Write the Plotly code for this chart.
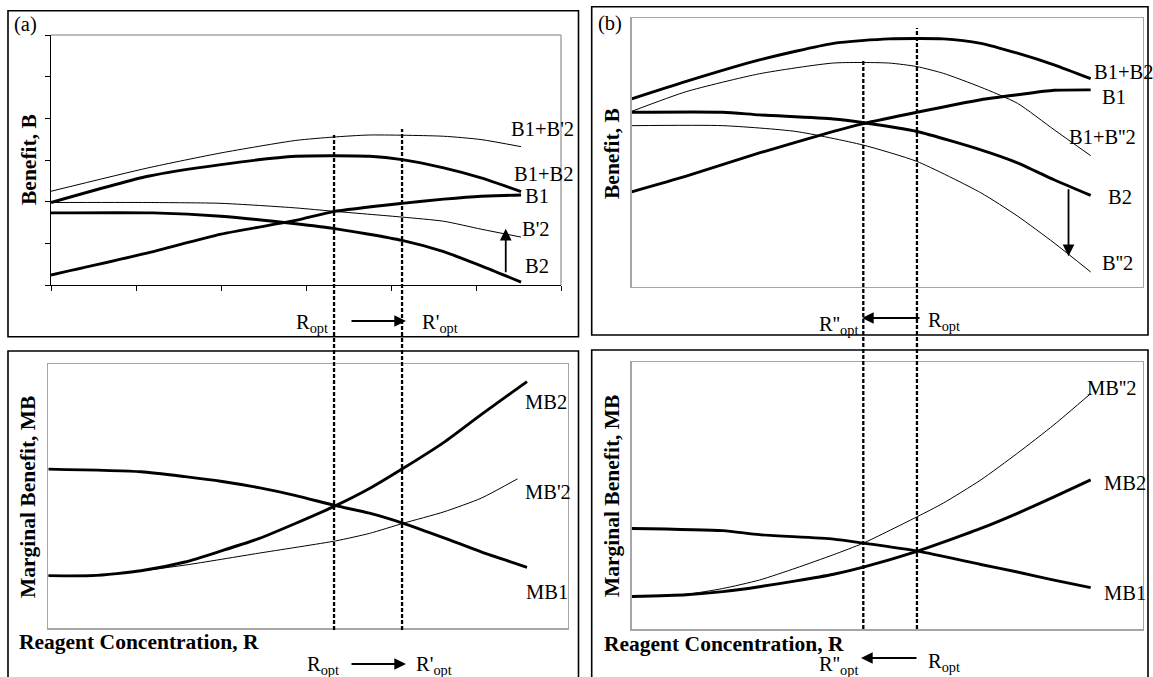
import plotly.graph_objects as go

W, H = 1153, 677

# ---------------- data ----------------
# Panel (a): benefit curves
a_b1pb2p_x = [0, 1.14, 2.0, 2.88, 3.32, 3.75, 4.62, 5.06, 5.53]
a_b1pb2p_y = [2.25, 2.81, 3.17, 3.47, 3.55, 3.60, 3.57, 3.49, 3.32]
a_b1pb2_x = [0, 1.14, 2.0, 2.88, 3.75, 4.13, 4.62, 5.06, 5.53]
a_b1pb2_y = [1.98, 2.61, 2.89, 3.09, 3.09, 3.01, 2.81, 2.57, 2.24]
a_b1_x = [0, 1.14, 2.0, 2.88, 3.32, 4.13, 4.62, 5.06, 5.53]
a_b1_y = [0.24, 0.77, 1.22, 1.55, 1.76, 1.96, 2.06, 2.13, 2.16]
a_b2p_x = [0, 1.14, 2.0, 2.88, 3.32, 4.13, 4.62, 5.06, 5.53]
a_b2p_y = [1.98, 1.98, 1.96, 1.85, 1.77, 1.63, 1.53, 1.34, 1.15]
a_b2_x = [0, 1.2, 2.0, 2.88, 3.32, 4.13, 4.62, 5.06, 5.53]
a_b2_y = [1.73, 1.73, 1.65, 1.47, 1.36, 1.07, 0.80, 0.46, 0.07]
a_ticks = [0, 1, 2, 3, 4, 5, 6]
a_ropt, a_ropt_prime = 3.33, 4.13
a_shift_arrow_x, a_shift_arrow_from, a_shift_arrow_to = 5.35, 0.27, 1.35

# Panel (b): benefit curves
b_b1pb2_x = [0, 0.64, 1.50, 2.37, 3.02, 3.66, 4.10, 4.53, 4.96, 5.39]
b_b1pb2_y = [4.20, 4.59, 5.07, 5.44, 5.54, 5.54, 5.44, 5.22, 4.96, 4.65]
b_b1pb2pp_x = [0, 0.64, 1.50, 2.37, 3.02, 3.35, 3.66, 4.10, 4.53, 4.96, 5.39]
b_b1pb2pp_y = [3.92, 4.36, 4.76, 5.00, 5.00, 4.92, 4.77, 4.46, 4.10, 3.51, 2.93]
b_b1_x = [0, 0.64, 1.50, 2.37, 2.71, 3.35, 4.10, 4.53, 4.96, 5.39]
b_b1_y = [2.12, 2.47, 2.99, 3.47, 3.64, 3.90, 4.18, 4.29, 4.39, 4.40]
b_b2_x = [0, 1.07, 1.50, 2.37, 2.71, 3.35, 4.10, 4.53, 4.96, 5.39]
b_b2_y = [3.90, 3.90, 3.84, 3.75, 3.67, 3.47, 3.06, 2.77, 2.39, 2.04]
b_b2pp_x = [0, 1.07, 1.93, 2.71, 3.35, 4.10, 4.53, 4.96, 5.39]
b_b2pp_y = [3.60, 3.60, 3.47, 3.17, 2.80, 2.10, 1.58, 0.98, 0.33]
b_ropt, b_ropt_dprime = 3.35, 2.72
b_shift_arrow_x, b_shift_arrow_from, b_shift_arrow_to = 5.13, 2.21, 0.68

# Panel (c): marginal benefit curves
c_mb1_x = [0, 1.07, 1.58, 2.01, 2.43, 2.86, 3.32, 3.71, 4.10, 4.57, 5.0, 5.53]
c_mb1_y = [3.61, 3.55, 3.44, 3.33, 3.19, 3.01, 2.78, 2.61, 2.38, 2.05, 1.73, 1.38]
c_mb2_x = [0, 0.51, 1.07, 1.58, 2.01, 2.43, 2.86, 3.32, 3.71, 4.10, 4.57, 5.0, 5.53]
c_mb2_y = [1.19, 1.19, 1.30, 1.50, 1.76, 2.03, 2.38, 2.78, 3.17, 3.63, 4.22, 4.85, 5.60]
c_mb2p_x = [0, 0.73, 1.58, 2.43, 3.32, 3.71, 4.10, 4.57, 5.0, 5.42]
c_mb2p_y = [1.19, 1.22, 1.43, 1.70, 1.98, 2.15, 2.38, 2.64, 2.95, 3.39]

# Panel (d): marginal benefit curves
d_mb1_x = [0, 1.07, 1.50, 2.37, 2.72, 3.36, 4.10, 4.53, 4.96, 5.39]
d_mb1_y = [2.26, 2.21, 2.12, 2.02, 1.93, 1.75, 1.45, 1.28, 1.10, 0.93]
d_mb2_x = [0, 0.64, 1.07, 1.50, 1.93, 2.37, 2.72, 3.36, 3.66, 4.10, 4.53, 4.96, 5.39]
d_mb2_y = [0.73, 0.77, 0.84, 0.95, 1.08, 1.23, 1.39, 1.75, 1.95, 2.26, 2.60, 2.97, 3.35]
d_mb2pp_x = [0, 0.64, 1.07, 1.50, 1.93, 2.37, 2.72, 3.36, 3.66, 4.10, 4.53, 4.96, 5.39]
d_mb2pp_y = [0.73, 0.78, 0.91, 1.10, 1.37, 1.67, 1.93, 2.53, 2.83, 3.35, 3.95, 4.59, 5.29]

# ---------------- layout helpers (pixel -> paper) ----------------
def px(x):
    return x / W

def py(y):
    return 1 - y / H

FONT = "Liberation Serif"
THICK, THIN = 2.9, 1.0
GRAY = "#a6a6a6"
LBL, TTL = 20.5, 21.5

fig = go.Figure()

def curve(x, y, width, ax):
    fig.add_trace(go.Scatter(x=x, y=y, mode="lines", xaxis="x" + ax, yaxis="y" + ax,
                             line=dict(color="black", width=width, shape="spline", smoothing=0.6),
                             hoverinfo="skip", showlegend=False))

# panel a  -> axis "" (x, y)
curve(a_b1pb2p_x, a_b1pb2p_y, THIN, "")
curve(a_b1pb2_x, a_b1pb2_y, THICK, "")
curve(a_b1_x, a_b1_y, THICK, "")
curve(a_b2p_x, a_b2p_y, THIN, "")
curve(a_b2_x, a_b2_y, THICK, "")
# panel b  -> axis 2
curve(b_b1pb2_x, b_b1pb2_y, THICK, "2")
curve(b_b1pb2pp_x, b_b1pb2pp_y, THIN, "2")
curve(b_b1_x, b_b1_y, THICK, "2")
curve(b_b2_x, b_b2_y, THICK, "2")
curve(b_b2pp_x, b_b2pp_y, THIN, "2")
# panel c  -> axis 3
curve(c_mb1_x, c_mb1_y, THICK, "3")
curve(c_mb2_x, c_mb2_y, THICK, "3")
curve(c_mb2p_x, c_mb2p_y, THIN, "3")
# panel d  -> axis 4
curve(d_mb1_x, d_mb1_y, THICK, "4")
curve(d_mb2_x, d_mb2_y, THICK, "4")
curve(d_mb2pp_x, d_mb2pp_y, THIN, "4")

# plot-area pixel boxes (left, right, top, bottom)
boxes = {
    "": (51, 561, 35, 285),
    "2": (631.7, 1142.6, 18.3, 286.7),
    "3": (48.3, 567.7, 364, 628),
    "4": (631.7, 1142.6, 362, 629),
}
y_ranges = {"": [0, 6], "2": [0, 6], "3": [0, 6], "4": [0, 6]}
x_ranges = {"": [0, 6], "2": [0, 6], "3": [0, 6], "4": [0, 6]}

layout_axes = {}
for k, (l, r, t, b) in boxes.items():
    xa = dict(domain=[px(l), px(r)], range=x_ranges[k], showgrid=False, zeroline=False,
              showticklabels=False, anchor="y" + k, fixedrange=True)
    ya = dict(domain=[py(b), py(t)], range=y_ranges[k], showgrid=False, zeroline=False,
              showticklabels=False, anchor="x" + k, fixedrange=True)
    if k == "":
        for a in (xa, ya):
            a.update(showline=True, linecolor="black", linewidth=1, ticks="outside",
                     tickvals=a_ticks, ticklen=5, tickcolor="black", tickwidth=1)
    else:
        for a in (xa, ya):
            a.update(showline=True, linecolor=GRAY, linewidth=1.5, mirror=True, ticks="")
    layout_axes["xaxis" + k] = xa
    layout_axes["yaxis" + k] = ya

shapes = []
# gray top/right border of panel (a) plot area
shapes.append(dict(type="line", xref="x domain", yref="y domain", x0=0, x1=1, y0=1, y1=1,
                   line=dict(color=GRAY, width=1.5)))
shapes.append(dict(type="line", xref="x domain", yref="y domain", x0=1, x1=1, y0=0, y1=1,
                   line=dict(color=GRAY, width=1.5)))

# outer panel frames (pixels)
frames = [(8, 578.5, 10.7, 336.7), (591.7, 1148, 6.7, 335), (8, 578.5, 351, 690), (591.7, 1148, 350, 690)]
for l, r, t, b in frames:
    shapes.append(dict(type="rect", xref="paper", yref="paper", x0=px(l), x1=px(r), y0=py(b), y1=py(t),
                       line=dict(color="black", width=1.6)))

# dashed optimum lines (x in panel data, y spanning the two stacked panels)
dash_lines = [("x", a_ropt, 135, 630), ("x", a_ropt_prime, 129, 630),
              ("x2", b_ropt_dprime, 60, 629), ("x2", b_ropt, 28, 629)]
for xr, xv, top, bot in dash_lines:
    shapes.append(dict(type="line", xref=xr, yref="paper", x0=xv, x1=xv, y0=py(bot), y1=py(top),
                       line=dict(color="black", width=2.3, dash="4px,2px")))

ann = []

def label(text, x, y, ax="", size=LBL, xanchor="left", bold=False):
    ann.append(dict(text=("<b>%s</b>" % text) if bold else text, x=x, y=y, xref="x" + ax, yref="y" + ax,
                    xanchor=xanchor, yanchor="middle", showarrow=False,
                    font=dict(family=FONT, size=size, color="black")))

def plabel(text, x, y, size=LBL, xanchor="left", bold=False, angle=0, yanchor="middle"):
    ann.append(dict(text=("<b>%s</b>" % text) if bold else text, x=px(x), y=py(y), xref="paper", yref="paper",
                    xanchor=xanchor, yanchor=yanchor, showarrow=False, textangle=angle,
                    font=dict(family=FONT, size=size, color="black")))

# curve labels
label("B1+B'2", 5.39, 3.74)
label("B1+B2", 5.42, 2.66)
label("B1", 5.55, 2.14)
label("B'2", 5.52, 1.34)
label("B2", 5.55, 0.46)

label("B1+B2", 5.40, 4.80, "2")
label("B1", 5.50, 4.24, "2")
label("B1+B''2", 5.11, 3.35, "2")
label("B2", 5.57, 2.01, "2")
label("B''2", 5.50, 0.54, "2")

label("MB2", 5.48, 5.14, "3")
label("MB'2", 5.48, 3.09, "3")
label("MB1", 5.50, 0.82, "3")

label("MB''2", 5.32, 5.42, "4")
label("MB2", 5.52, 3.28, "4")
label("MB1", 5.52, 0.81, "4")

# panel letters
plabel("(a)", 12, 24)
plabel("(b)", 596, 23)

# axis titles
plabel("Benefit, B", 29, 160, size=TTL, xanchor="center", bold=True, angle=-90)
plabel("Benefit, B", 612, 154, size=TTL, xanchor="center", bold=True, angle=-90)
plabel("Marginal Benefit, MB", 28, 497, size=TTL, xanchor="center", bold=True, angle=-90)
plabel("Marginal Benefit, MB", 612, 496, size=TTL, xanchor="center", bold=True, angle=-90)
plabel("Reagent Concentration, R", 17, 642, size=TTL, bold=True)
plabel("Reagent Concentration, R", 602, 644, size=TTL, bold=True)

# optimum labels
plabel("R<sub>opt</sub>", 294, 324)
plabel("R'<sub>opt</sub>", 420, 324)
plabel("R<sub>opt</sub>", 305, 665)
plabel("R'<sub>opt</sub>", 414, 665)
plabel("R''<sub>opt</sub>", 860, 325, xanchor="right")
plabel("R<sub>opt</sub>", 926, 321)
plabel("R''<sub>opt</sub>", 860, 665, xanchor="right")
plabel("R<sub>opt</sub>", 926, 662)

# horizontal shift arrows (pixel positions)
h_arrows = [(406, 350, 321), (406, 350, 664), (862, 921, 318), (861, 918, 658)]
for head, tail, yy in h_arrows:
    ann.append(dict(x=px(head), y=py(yy), xref="paper", yref="paper", ax=tail - head, ay=0,
                    axref="pixel", ayref="pixel", showarrow=True, arrowhead=2, arrowsize=1.3,
                    arrowwidth=1.8, arrowcolor="black", text="", standoff=0))

# vertical shift arrows (data coordinates)
ann.append(dict(x=a_shift_arrow_x, y=a_shift_arrow_to, ax=a_shift_arrow_x, ay=a_shift_arrow_from,
                xref="x", yref="y", axref="x", ayref="y", showarrow=True, arrowhead=2, arrowsize=1.3,
                arrowwidth=1.8, arrowcolor="black", text=""))
ann.append(dict(x=b_shift_arrow_x, y=b_shift_arrow_to, ax=b_shift_arrow_x, ay=b_shift_arrow_from,
                xref="x2", yref="y2", axref="x2", ayref="y2", showarrow=True, arrowhead=2, arrowsize=1.3,
                arrowwidth=1.8, arrowcolor="black", text=""))

fig.update_layout(width=W, height=H, autosize=False, margin=dict(l=0, r=0, t=0, b=0, pad=0),
                  paper_bgcolor="white", plot_bgcolor="white", showlegend=False,
                  font=dict(family=FONT, color="black"),
                  shapes=shapes, annotations=ann, **layout_axes)

fig.write_html("out.html", config={"displayModeBar": False, "staticPlot": True},
               post_script="document.body.style.margin='0px';")
